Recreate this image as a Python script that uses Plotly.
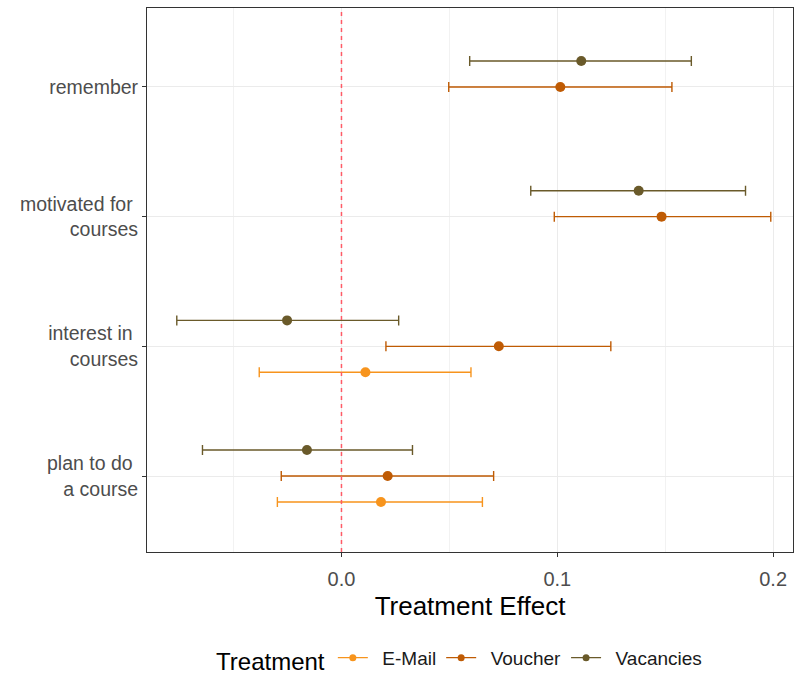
import plotly.graph_objects as go

categories = ["plan to do\u00a0<br>a course", "interest in\u00a0<br>courses",
              "motivated for\u00a0<br>courses", "remember"]
cat_pos = [1, 2, 3, 4]

treatments = ["E-Mail", "Voucher", "Vacancies"]
colors = {"E-Mail": "#F7941D", "Voucher": "#BF5B04", "Vacancies": "#6A5A2A"}
offsets = {"E-Mail": -0.2, "Voucher": 0.0, "Vacancies": 0.2}

# estimates / lower / upper per category (plan, interest, motivated, remember); None = missing
est = {
    "E-Mail":    [0.0183, 0.0111, None, None],
    "Voucher":   [0.0214, 0.0729, 0.1483, 0.1014],
    "Vacancies": [-0.0160, -0.0252, 0.1377, 0.1111],
}
lower = {
    "E-Mail":    [-0.0297, -0.0381, None, None],
    "Voucher":   [-0.0279, 0.0206, 0.0986, 0.0497],
    "Vacancies": [-0.0644, -0.0763, 0.0877, 0.0594],
}
upper = {
    "E-Mail":    [0.0653, 0.0600, None, None],
    "Voucher":   [0.0705, 0.1248, 0.1989, 0.1531],
    "Vacancies": [0.0329, 0.0265, 0.1872, 0.1621],
}

x_ticks = [0.0, 0.1, 0.2]
x_ticktext = ["0.0", "0.1", "0.2"]

fig = go.Figure()

for t in treatments:
    xs, ys, ep, em = [], [], [], []
    for i, p in enumerate(cat_pos):
        if est[t][i] is None:
            continue
        xs.append(est[t][i])
        ys.append(p + offsets[t])
        ep.append(upper[t][i] - est[t][i])
        em.append(est[t][i] - lower[t][i])
    fig.add_trace(go.Scatter(
        x=xs, y=ys, mode="markers", name=t, legendgroup=t, showlegend=False,
        marker=dict(color=colors[t], size=10),
        error_x=dict(type="data", array=ep, arrayminus=em, symmetric=False,
                     color=colors[t], thickness=1.4, width=5),
    ))
    # legend entry (line + point glyph)
    fig.add_trace(go.Scatter(
        x=[None], y=[None], mode="lines+markers", name="\u2002" + t, legendgroup=t,
        line=dict(color=colors[t], width=1.4), marker=dict(color=colors[t], size=7),
    ))

fig.add_shape(type="line", xref="x", yref="paper", x0=0, x1=0, y0=0, y1=1,
              line=dict(color="#FF5A66", width=1.5, dash="4px,4px"), layer="above")

fig.update_layout(
    width=794, height=676,
    margin=dict(l=147, r=1, t=8, b=124),
    paper_bgcolor="white", plot_bgcolor="white",
    font=dict(family="Liberation Sans, Arial, sans-serif", size=19, color="#4D4D4D"),
    xaxis=dict(
        range=[-0.0901, 0.2092], tickvals=x_ticks, ticktext=x_ticktext,
        showgrid=True, gridcolor="#EBEBEB", gridwidth=1,
        minor=dict(tickvals=[-0.05, 0.05, 0.15], showgrid=True, gridcolor="#F2F2F2", gridwidth=0.6),
        ticks="outside", ticklen=4, tickcolor="#333333", tickwidth=1,
        showline=True, linecolor="#333333", linewidth=1, mirror=True,
        zeroline=False, automargin=False,
        title=dict(text="Treatment Effect", font=dict(size=26, color="black"), standoff=7),
        tickfont=dict(size=20, color="#4D4D4D"),
        ticklabelstandoff=5,
    ),
    yaxis=dict(
        range=[0.414, 4.609], tickvals=cat_pos, ticktext=categories,
        showgrid=True, gridcolor="#EBEBEB", gridwidth=1,
        ticks="outside", ticklen=4, tickcolor="#333333", tickwidth=1,
        showline=True, linecolor="#333333", linewidth=1, mirror=True,
        zeroline=False, automargin=False,
        tickfont=dict(size=19.5, color="#4D4D4D"),
    ),
    legend=dict(
        orientation="h", x=0.58, xanchor="center", xref="container",
        y=0.024, yanchor="middle", yref="container",
        title=dict(text="Treatment", font=dict(size=24, color="black"), side="left"),
        font=dict(size=19, color="#1A1A1A"),
        itemwidth=30,
    ),
)

fig.write_html("out.html")
